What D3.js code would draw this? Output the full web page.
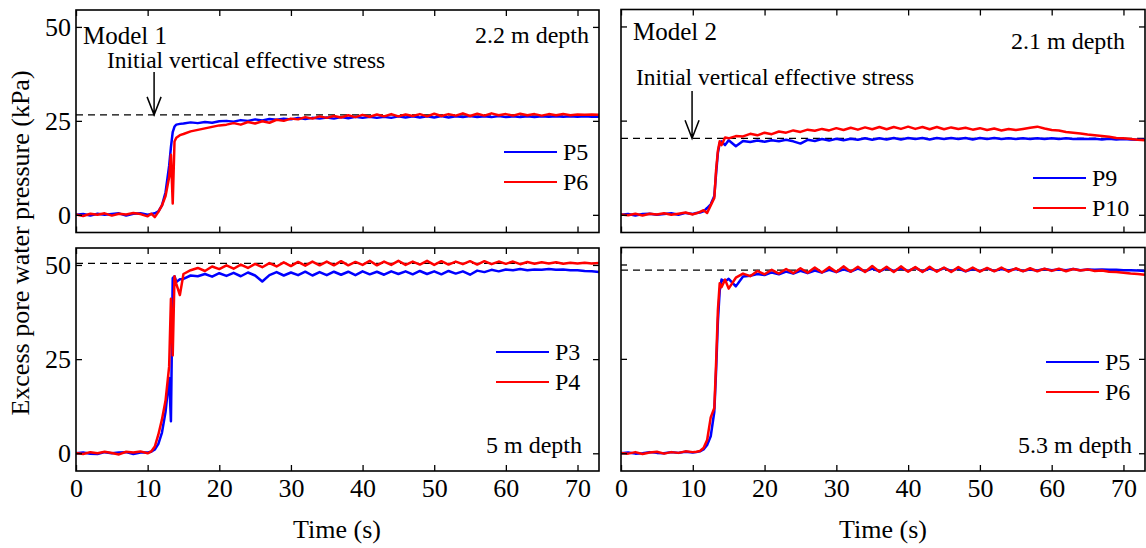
<!DOCTYPE html>
<html>
<head>
<meta charset="utf-8">
<script src="https://cdn.jsdelivr.net/npm/d3@7"></script>
<style>
  body { margin: 0; background: #fff; }
  svg text { font-family: 'Liberation Serif', 'Times New Roman', serif; fill: #000; }
</style>
</head>
<body>
<script>
// sample times (s), shared by every record
const time = [0, 1, 2, 3, 4, 5, 6, 7, 8, 9, 10,
  10.5, 11, 11.5, 12, 12.5, 13, 13.25, 13.5, 13.75, 14, 14.5,
  15, 16, 17, 18, 19, 20, 21, 22, 23, 24, 25, 26, 27, 28, 29, 30,
  31, 32, 33, 34, 35, 36, 37, 38, 39, 40, 41, 42, 43, 44, 45,
  46, 47, 48, 49, 50, 51, 52, 53, 54, 55, 56, 57, 58, 59, 60,
  61, 62, 63, 64, 65, 66, 67, 68, 69, 70, 71, 72, 73];

// Model 1, 2.2 m depth
const p5Model1 = [0, 0.2, -0.2, 0.3, 0, 0.2, 0.4, -0.2, 0.3, 0.4, 0,
  0.2, 0.4, 0.9, 2.5, 6, 13, 18, 22, 23.5, 24, 24.2,
  24.3, 24.6, 24.4, 24.7, 24.5, 24.9, 25.0, 24.8, 25.2, 25.0, 25.4, 25.1, 25.5, 25.3, 25.6, 25.4,
  25.8, 25.5, 25.8, 25.6, 25.9, 25.6, 26.0, 25.7, 26.1, 25.8, 26.1, 25.8, 26.1, 25.8, 26.2,
  25.9, 26.2, 25.9, 26.2, 25.9, 26.3, 25.9, 26.2, 26.0, 26.3, 26.0, 26.2, 26.0, 26.3, 26.0,
  26.2, 26.0, 26.2, 26.0, 26.2, 26.1, 26.2, 26.1, 26.2, 26.1, 26.2, 26.1, 26.1];
const p6Model1 = [0.1, -0.3, 0.3, 0, 0.4, -0.2, 0.3, 0.1, 0.5, 0.2, -0.4,
  0.3, -0.6, 0.8, 2.5, 5, 10, 16, 3, 19.5, 20.5, 21.2,
  21.5, 22.2, 22.6, 23.0, 23.4, 23.8, 24.0, 24.4, 24.0, 24.7, 24.3, 24.9, 24.5, 25.3, 25.0, 25.6,
  25.4, 26.0, 25.6, 26.2, 25.8, 26.3, 25.9, 26.5, 26.0, 26.6, 26.1, 26.7, 26.2, 26.8, 26.2,
  26.7, 26.3, 26.8, 26.2, 26.9, 26.3, 26.8, 26.4, 27.0, 26.3, 26.9, 26.4, 27.0, 26.5, 26.8,
  26.4, 26.9, 26.5, 26.8, 26.4, 26.8, 26.5, 26.8, 26.5, 26.7, 26.6, 26.7, 26.6];

// Model 2, 2.1 m depth
const p9Model2 = [0, 0.2, -0.2, 0.2, 0.3, 0, 0.2, 0.4, 0, 0.5, 0.2,
  0.5, 0.6, 0.9, 1.8, 2.8, 5, 11, 16.5, 19, 19.5, 18.5,
  19.8, 18.2, 19.6, 19.3, 19.7, 19.4, 19.8, 19.5, 19.9, 19.5, 18.9, 19.9, 19.6, 20.1, 19.7, 20.2,
  19.8, 20.2, 19.9, 20.3, 19.9, 20.3, 20.0, 20.4, 20.0, 20.4, 20.1, 20.4, 20.0, 20.4, 20.1,
  20.4, 20.1, 20.4, 20.0, 20.4, 20.1, 20.4, 20.1, 20.3, 20.1, 20.3, 20.1, 20.3, 20.1, 20.3,
  20.1, 20.3, 20.1, 20.2, 20.1, 20.2, 20.0, 20.2, 20.0, 20.1, 20.0, 19.9, 19.9];
const p10Model2 = [0.1, -0.1, 0.3, -0.2, 0.3, 0.1, 0.4, 0, 0.3, 0.6, 0.1,
  0.4, 0.8, 1.2, 0.5, 2.5, 4.5, 12, 17, 19.5, 18.5, 20.5,
  20.3, 20.9, 20.8, 21.5, 21.1, 21.8, 21.4, 22.1, 21.8, 22.4, 22.0, 22.6, 22.3, 22.8, 22.4, 23.0,
  22.5, 23.1, 22.6, 23.2, 22.7, 23.3, 22.7, 23.3, 22.8, 23.4, 22.8, 23.3, 22.7, 23.3, 22.7,
  23.2, 22.8, 23.1, 22.6, 23.0, 22.5, 22.9, 22.4, 22.8, 22.5, 22.8, 23.1, 23.4, 22.9, 22.5,
  22.4, 22.0, 21.8, 21.6, 21.3, 21.1, 20.9, 20.7, 20.4, 20.3, 20.1, 19.9, 19.8];

// Model 1, 5 m depth
const p3Model1 = [0, 0.2, -0.1, -0.2, 0.3, 0, 0.2, 0.3, -0.2, 0.2, 0.2,
  0.4, 1, 2.5, 5.5, 11, 20, 8.5, 46.5, 47, 45.5, 46.2,
  46.3, 47.2, 47.0, 47.6, 46.9, 47.8, 47.1, 47.9, 47.0, 48.0, 47.2, 45.6, 47.3, 48.1, 47.2, 48.0,
  47.3, 48.2, 47.2, 48.1, 47.3, 48.2, 47.4, 48.2, 47.3, 48.3, 47.5, 48.2, 47.4, 48.3, 47.6,
  48.3, 47.5, 48.4, 47.6, 48.3, 47.5, 48.4, 47.7, 48.3, 47.4, 48.5, 48.1, 48.7, 48.3, 48.8,
  48.6, 48.9, 48.6, 48.8, 48.7, 48.9, 48.7, 48.8, 48.6, 48.6, 48.4, 48.3, 48.1];
const p4Model1 = [0.1, -0.2, 0.3, 0, 0.4, 0.1, -0.3, 0.4, 0.2, 0.5, 0,
  0.5, 1.8, 5, 9, 14, 23, 41, 26, 47, 45, 42,
  47.6, 48.6, 49.2, 48.4, 49.6, 48.9, 49.9, 49.0, 50.1, 49.2, 50.3, 49.4, 50.5, 49.6, 50.7, 49.7,
  50.8, 49.8, 50.9, 49.9, 50.9, 49.9, 51.0, 49.9, 50.8, 50.0, 51.1, 49.9, 50.9, 50.0, 51.1,
  50.0, 50.9, 50.1, 51.1, 50.0, 51.0, 50.1, 50.9, 50.2, 51.0, 50.1, 51.0, 50.2, 50.9, 50.3,
  50.9, 50.2, 50.8, 50.3, 50.7, 50.4, 50.7, 50.3, 50.6, 50.4, 50.6, 50.4, 50.5];

// Model 2, 5.3 m depth
const p5Model2 = [0, 0.2, -0.1, 0, 0.3, 0.1, 0, 0.3, 0.1, 0.4, 0.2,
  0.3, 0.5, 1.0, 2.2, 4.5, 11, 22, 35, 43, 46, 45.5,
  46.2, 44.2, 46.8, 47.0, 47.5, 47.2, 47.9, 47.4, 48.1, 47.6, 48.3, 47.7, 48.4, 47.9, 48.6, 48.0,
  48.7, 48.1, 48.9, 48.2, 48.9, 48.2, 49.0, 48.3, 49.0, 48.3, 49.1, 48.2, 48.9, 48.3, 49.0,
  48.3, 48.9, 48.2, 48.8, 48.3, 48.9, 48.3, 48.8, 48.4, 48.8, 48.3, 48.7, 48.4, 48.8, 48.5,
  48.7, 48.5, 48.8, 48.5, 48.7, 48.6, 48.7, 48.6, 48.6, 48.5, 48.5, 48.4, 48.3];
const p6Model2 = [0.1, -0.1, 0.3, -0.2, 0.2, 0.4, -0.1, 0.3, 0.1, 0.5, 0.3,
  0.4, 0.6, 1.4, 3.5, 9.5, 12, 24, 38, 45, 44, 46,
  43.6, 46.5, 47.6, 46.9, 48.3, 47.4, 48.6, 47.6, 48.8, 47.7, 49.0, 47.8, 49.2, 47.9, 49.3, 48.0,
  49.5, 48.1, 49.4, 48.0, 49.6, 48.1, 49.4, 48.0, 49.5, 48.1, 49.3, 48.0, 49.4, 48.1, 49.2,
  48.0, 49.3, 48.2, 49.2, 48.1, 49.1, 48.2, 49.2, 48.1, 49.0, 48.2, 49.0, 48.2, 48.9, 48.3,
  48.9, 48.2, 48.8, 48.4, 48.7, 48.3, 48.4, 48.1, 48.0, 47.8, 47.6, 47.5, 47.3];

// initial vertical effective stress (kPa) for each panel
const stressLevels = [26.6, 20.3, 50.4, 48.5];
const yTicks = [0, 25, 50];
const xTicks = [0, 10, 20, 30, 40, 50, 60, 70];

const width = 1146;
const height = 548;

const panels = [
  { x0: 76, x1: 599, y0: 10, y1: 232.5, blue: p5Model1, red: p6Model1, names: ['P5', 'P6'],
    stress: stressLevels[0], yLabels: true, xLabels: false },
  { x0: 621, x1: 1145, y0: 9.5, y1: 232.5, blue: p9Model2, red: p10Model2, names: ['P9', 'P10'],
    stress: stressLevels[1], yLabels: false, xLabels: false },
  { x0: 76, x1: 599, y0: 248, y1: 471, blue: p3Model1, red: p4Model1, names: ['P3', 'P4'],
    stress: stressLevels[2], yLabels: true, xLabels: true },
  { x0: 621, x1: 1145, y0: 247.5, y1: 471, blue: p5Model2, red: p6Model2, names: ['P5', 'P6'],
    stress: stressLevels[3], yLabels: false, xLabels: true }
];

const svg = d3.select('body').append('svg')
    .attr('width', width)
    .attr('height', height)
    .attr('viewBox', [0, 0, width, height]);

panels.forEach((p, i) => {
  p.x = d3.scaleLinear().domain([0, 73]).range([p.x0, p.x1]);
  p.y = d3.scaleLinear().domain([-4.7, 54.5]).range([p.y1, p.y0]);

  const g = svg.append('g');

  g.append('clipPath')
      .attr('id', 'clip' + i)
    .append('rect')
      .attr('x', p.x0)
      .attr('y', p.y0)
      .attr('width', p.x1 - p.x0)
      .attr('height', p.y1 - p.y0);

  // dashed reference level
  g.append('line')
      .attr('x1', p.x(0))
      .attr('x2', p.x(73))
      .attr('y1', p.y(p.stress))
      .attr('y2', p.y(p.stress))
      .attr('stroke', '#000')
      .attr('stroke-width', 1.3)
      .attr('stroke-dasharray', '7,5');

  const line = d3.line()
      .x((d, j) => p.x(time[j]))
      .y(d => p.y(d));

  g.append('g')
      .attr('clip-path', `url(#clip${i})`)
    .selectAll('path')
    .data([{ v: p.blue, c: '#0000ff' }, { v: p.red, c: '#ff0000' }])
    .join('path')
      .attr('d', d => line(d.v))
      .attr('fill', 'none')
      .attr('stroke', d => d.c)
      .attr('stroke-width', 2.5)
      .attr('stroke-linejoin', 'round');

  // axes, ticks pointing inside on all four sides
  const bottom = d3.axisBottom(p.x).tickValues(xTicks).tickSizeInner(-6).tickSizeOuter(0).tickPadding(8);
  if (!p.xLabels) bottom.tickFormat('');
  const left = d3.axisLeft(p.y).tickValues(yTicks).tickSizeInner(-6).tickSizeOuter(0).tickPadding(5);
  if (!p.yLabels) left.tickFormat('');

  g.append('g')
      .attr('transform', `translate(0,${p.y1})`)
      .call(bottom);
  g.append('g')
      .attr('transform', `translate(0,${p.y0})`)
      .call(d3.axisTop(p.x).tickValues(xTicks).tickSizeInner(-6).tickSizeOuter(0).tickFormat(''));
  g.append('g')
      .attr('transform', `translate(${p.x0},0)`)
      .call(left);
  g.append('g')
      .attr('transform', `translate(${p.x1},0)`)
      .call(d3.axisRight(p.y).tickValues(yTicks).tickSizeInner(-6).tickSizeOuter(0).tickFormat(''));

  g.selectAll('.domain').remove();
  g.selectAll('.tick line').attr('stroke', '#000').attr('stroke-width', 1.3);
  g.selectAll('.tick text')
      .attr('font-family', "'Liberation Serif', 'Times New Roman', serif")
      .attr('font-size', 26);

  g.append('rect')
      .attr('x', p.x0)
      .attr('y', p.y0)
      .attr('width', p.x1 - p.x0)
      .attr('height', p.y1 - p.y0)
      .attr('fill', 'none')
      .attr('stroke', '#000')
      .attr('stroke-width', 1.6);
});

// legends
const legendPos = [
  { lx: 504, ly: 152 },
  { lx: 1033, ly: 178 },
  { lx: 496, ly: 352 },
  { lx: 1046, ly: 362 }
];
panels.forEach((p, i) => {
  const lp = legendPos[i];
  const lg = svg.append('g').attr('transform', `translate(${lp.lx},${lp.ly})`);
  ['#0000ff', '#ff0000'].forEach((c, k) => {
    lg.append('line')
        .attr('x1', 0).attr('x2', 53)
        .attr('y1', k * 30).attr('y2', k * 30)
        .attr('stroke', c)
        .attr('stroke-width', 2.2);
    lg.append('text')
        .attr('x', 59)
        .attr('y', k * 30 + 8)
        .attr('font-size', 24)
        .text(p.names[k]);
  });
});

// panel annotations
const models = ['Model 1', 'Model 2', null, null];
const depths = ['2.2 m depth', '2.1 m depth', '5 m depth', '5.3 m depth'];
const modelPos = [[83, 44], [633, 40]];
const depthPos = [[589, 43], [1125, 49], [582, 453], [1132, 453]];

models.forEach((m, i) => {
  if (!m) return;
  svg.append('text')
      .attr('x', modelPos[i][0])
      .attr('y', modelPos[i][1])
      .attr('font-size', 25)
      .text(m);
});
depths.forEach((d, i) => {
  svg.append('text')
      .attr('x', depthPos[i][0])
      .attr('y', depthPos[i][1])
      .attr('text-anchor', 'end')
      .attr('font-size', 24)
      .text(d);
});

// "Initial vertical effective stress" arrows
const arrows = [
  { panel: 0, tx: 107, ty: 68, at: 10.9, top: 72 },
  { panel: 1, tx: 636, ty: 85, at: 9.9, top: 91 }
];
arrows.forEach(a => {
  const p = panels[a.panel];
  const ax = p.x(a.at);
  const tip = p.y(p.stress);
  svg.append('text')
      .attr('x', a.tx)
      .attr('y', a.ty)
      .attr('font-size', 23.5)
      .text('Initial vertical effective stress');
  svg.append('path')
      .attr('d', `M${ax},${a.top}V${tip}M${ax - 7},${tip - 18}L${ax},${tip}L${ax + 7},${tip - 18}`)
      .attr('fill', 'none')
      .attr('stroke', '#000')
      .attr('stroke-width', 1.5);
});

// axis titles
svg.append('text')
    .attr('transform', 'translate(29,243) rotate(-90)')
    .attr('text-anchor', 'middle')
    .attr('font-size', 26)
    .text('Excess pore water pressure (kPa)');

[[337, 538], [883, 538]].forEach(([x, y]) => {
  svg.append('text')
      .attr('x', x)
      .attr('y', y)
      .attr('text-anchor', 'middle')
      .attr('font-size', 26)
      .text('Time (s)');
});
</script>
</body>
</html>
